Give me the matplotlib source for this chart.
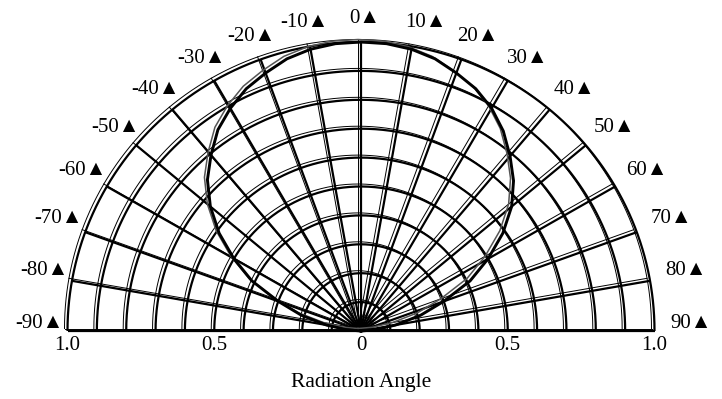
import numpy as np
import matplotlib
matplotlib.use('Agg')
import matplotlib.pyplot as plt
from matplotlib.transforms import ScaledTranslation

# radiation pattern, relative intensity vs angle (deg)
angles = [-90, -85, -80, -75, -70, -65, -60, -55, -50, -45, -40, -35, -30,
          -25, -20, -15, -10, -5, 0, 5, 10, 15, 20, 25, 30, 35, 40, 45, 50,
          55, 60, 65, 70, 75, 80, 85, 90]
intensity = [0.0, 0.05, 0.12, 0.21, 0.30, 0.41, 0.50, 0.59, 0.67, 0.74, 0.795,
             0.85, 0.89, 0.925, 0.95, 0.975, 0.99, 0.998, 1.0, 0.998, 0.99,
             0.975, 0.95, 0.925, 0.89, 0.845, 0.79, 0.735, 0.67, 0.59, 0.50,
             0.41, 0.30, 0.21, 0.12, 0.05, 0.0]

grid_r = [0.1, 0.2, 0.3, 0.4, 0.5, 0.6, 0.7, 0.8, 0.9, 1.0]
grid_deg = list(range(-90, 91, 10))
r_ticks = [-1.0, -0.5, 0.0, 0.5, 1.0]
r_labels = ['1.0', '0.5', '0', '0.5', '1.0']

plt.rcParams['font.family'] = ['Liberation Serif', 'DejaVu Sans']

# pixel scale of one unit of radius (horizontal / vertical)
rx, ry = 293.5, 289.0
cx, cy = 361.0, 331.0
W, H = 722, 399

fig = plt.figure(figsize=(W / 100, H / 100), dpi=100)
ax = fig.add_axes([0, 0, 1, 1])
ax.set_xlim(-cx / rx, (W - cx) / rx)
ax.set_ylim(-(H - cy) / ry, cy / ry)
ax.axis('off')

shadow = ax.transData + ScaledTranslation(-3 / 100, 2.5 / 100, fig.dpi_scale_trans)


def xy(r, deg):
    t = np.radians(deg)
    return r * np.sin(t), r * np.cos(t)


arc = np.linspace(-90, 90, 361)
for r in grid_r:
    x, y = xy(r, arc)
    ax.plot(x, y, color='black', lw=1.6, zorder=3, solid_capstyle='butt')
    ax.plot(x, y, color='black', lw=0.7, zorder=2, transform=shadow)
for d in grid_deg:
    x, y = xy(np.array([0.0, 1.0]), d)
    ax.plot(x, y, color='black', lw=1.6, zorder=3, solid_capstyle='butt')
    ax.plot(x, y, color='black', lw=0.7, zorder=2, transform=shadow)

# pattern curve
px, py = xy(np.array(intensity), np.array(angles))
ax.plot(px, py, color='black', lw=2.1, zorder=5)
ax.plot(px, py, color='#555555', lw=1.1, zorder=4, transform=shadow)

# angle labels around the edge
for d in grid_deg:
    t = np.radians(d)
    rr = 1.11 + 0.12 * np.cos(t) ** 30
    lx = rr * np.sin(t) + 4 / rx
    ly = 1.055 * np.cos(t) + 8 / ry
    ax.text(lx, ly, f'{d}\u25B2', ha='center', va='center', fontsize=15)

for v, s in zip(r_ticks, r_labels):
    ax.text(v, -15 / ry, s, ha='center', va='center', fontsize=15)

ax.text(0, -52 / ry, 'Radiation Angle', ha='center', va='center', fontsize=15.5)

fig.savefig('out.png', dpi=100)
